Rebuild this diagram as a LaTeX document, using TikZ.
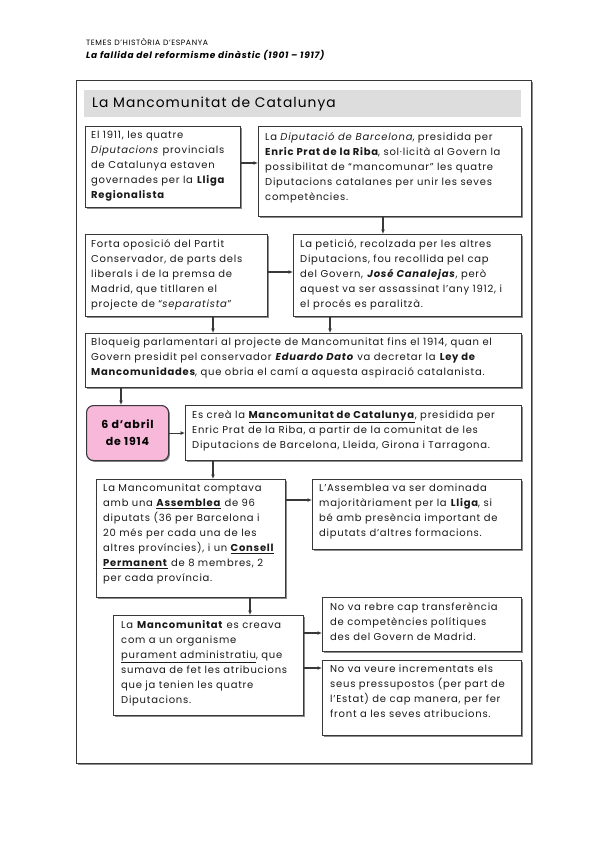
\documentclass[tikz,border=0pt]{standalone}
\usepackage{fontspec}
\setmainfont[LetterSpace=7.5]{Poppins}
\usetikzlibrary{arrows.meta,shadows}
\definecolor{pinkbox}{HTML}{F7B8DA}
\definecolor{titlegray}{HTML}{DDDDDD}
\definecolor{linec}{HTML}{383838}
\newcommand\ulx[1]{\leavevmode\vtop{\hbox{#1}\kern1.2pt\hrule height 0.7pt}}
\tikzset{
  boxstyle/.style={draw=linec, line width=1.1pt, fill=white, inner sep=0pt,
    anchor=north west,
    drop shadow={shadow xshift=1.3pt, shadow yshift=-1.3pt, fill=black!45, opacity=1}},
  txt/.style={align=left, inner sep=0pt, anchor=north west, text=black!90,
    font=\fontsize{10}{15}\selectfont},
  arr/.style={draw=linec, line width=1.1pt, -{Latex[length=4.5pt,width=4pt]}},
}
\begin{document}
\begin{tikzpicture}[x=1pt,y=-1pt]
\useasboundingbox (0,0) rectangle (599,848);
\fill[white] (0,0) rectangle (599,848);

% header
\node[anchor=base west, inner sep=0pt, font=\fontsize{7.7}{10}\selectfont] (h1) at (86,46) {TEMES D'HISTÒRIA D'ESPANYA};
\node[anchor=base west, inner sep=0pt, font=\fontsize{9}{10}\selectfont\bfseries\itshape] (h2) at (86,59) {La fallida del reformisme dinàstic (1901 – 1917)};

% frame
\node[boxstyle, minimum width=455pt, minimum height=683pt] (frame) at (76,80) {};
\node[fill=titlegray, inner sep=0pt, anchor=north west, minimum width=437pt, minimum height=27pt] (bar) at (84,90) {};
\node[anchor=west, inner sep=0pt, font=\fontsize{13.8}{17}\selectfont] (title) at (92,104) {La Mancomunitat de Catalunya};

% boxes
\node[boxstyle, minimum width=155pt, minimum height=81pt] (A) at (85,126) {};
\node[txt] (At) at ([xshift=6pt,yshift=-5pt]A.north west) {El 1911, les quatre\\ \textit{Diputacions} provincials\\ de Catalunya estaven\\ governades per la \textbf{Lliga}\\ \textbf{Regionalista}};

\node[boxstyle, minimum width=263pt, minimum height=90pt] (B) at (258,126) {};
\node[txt] (Bt) at ([xshift=7pt,yshift=-6pt]B.north west) {La \textit{Diputació de Barcelona}, presidida per\\ \textbf{Enric Prat de la Riba}, sol·licità al Govern la\\ possibilitat de “mancomunar” les quatre\\ Diputacions catalanes per unir les seves\\ competències.};

\node[boxstyle, minimum width=182pt, minimum height=82pt] (C) at (85,234) {};
\node[txt] (Ct) at ([xshift=6pt,yshift=-5pt]C.north west) {Forta oposició del Partit\\ Conservador, de parts dels\\ liberals i de la premsa de\\ Madrid, que titllaren el\\ projecte de “\textit{separatista}”};

\node[boxstyle, minimum width=228pt, minimum height=82pt] (D) at (293,234) {};
\node[txt] (Dt) at ([xshift=7pt,yshift=-5pt]D.north west) {La petició, recolzada per les altres\\ Diputacions, fou recollida pel cap\\ del Govern, \textbf{\textit{José Canalejas}}, però\\ aquest va ser assassinat l'any 1912, i\\ el procés es paralitzà.};

\node[boxstyle, minimum width=436pt, minimum height=54pt] (E) at (85,333) {};
\node[txt] (Et) at ([xshift=6pt,yshift=-5pt]E.north west) {Bloqueig parlamentari al projecte de Mancomunitat fins el 1914, quan el\\ Govern presidit pel conservador \textbf{\textit{Eduardo Dato}} va decretar la \textbf{Ley de}\\ \textbf{Mancomunidades}, que obria el camí a aquesta aspiració catalanista.};

\node[draw=linec, line width=1.1pt, fill=pinkbox, rounded corners=7pt, inner sep=0pt,
  anchor=north west, minimum width=82pt, minimum height=55pt, align=center,
  font=\fontsize{11}{17}\selectfont\bfseries,
  drop shadow={shadow xshift=1.3pt, shadow yshift=-1.3pt, fill=black!45, opacity=1}] (F) at (86,405) {6 d'abril\\ de 1914};

\node[boxstyle, minimum width=336pt, minimum height=55pt] (G) at (185,405) {};
\node[txt] (Gt) at ([xshift=7pt,yshift=-5pt]G.north west) {Es creà la \ulx{\textbf{Mancomunitat de Catalunya}}, presidida per\\ Enric Prat de la Riba, a partir de la comunitat de les\\ Diputacions de Barcelona, Lleida, Girona i Tarragona.};

\node[boxstyle, minimum width=189pt, minimum height=118pt] (H) at (96,479) {};
\node[txt] (Ht) at ([xshift=7pt,yshift=-5pt]H.north west) {La Mancomunitat comptava\\ amb una \ulx{\textbf{Assemblea}} de 96\\ diputats (36 per Barcelona i\\ 20 més per cada una de les\\ altres províncies), i un \ulx{\textbf{Consell}}\\ \ulx{\textbf{Permanent}} de 8 membres, 2\\ per cada província.};

\node[boxstyle, minimum width=209pt, minimum height=70pt] (I) at (312,479) {};
\node[txt] (It) at ([xshift=7pt,yshift=-5pt]I.north west) {L'Assemblea va ser dominada\\ majoritàriament per la \textbf{Lliga}, si\\ bé amb presència important de\\ diputats d'altres formacions.};

\node[boxstyle, minimum width=190pt, minimum height=100pt] (J) at (113,615) {};
\node[txt] (Jt) at ([xshift=8pt,yshift=-5pt]J.north west) {La \textbf{Mancomunitat} es creava\\ com a un organisme\\ \ulx{purament administratiu}, que\\ sumava de fet les atribucions\\ que ja tenien les quatre\\ Diputacions.};

\node[boxstyle, minimum width=199pt, minimum height=54pt] (K) at (322,597) {};
\node[txt] (Kt) at ([xshift=8pt,yshift=-5pt]K.north west) {No va rebre cap transferència\\ de competències polítiques\\ des del Govern de Madrid.};

\node[boxstyle, minimum width=199pt, minimum height=75pt] (L) at (322,660) {};
\node[txt] (Lt) at ([xshift=8pt,yshift=-5pt]L.north west) {No va veure incrementats els\\ seus pressupostos (per part de\\ l'Estat) de cap manera, per fer\\ front a les seves atribucions.};

% connectors
\draw[arr] (A.east |- 0,163) -- (B.west |- 0,163);
\draw[arr] (B.south -| 383,0) -- (D.north -| 383,0);
\draw[arr] (C.east |- 0,272) -- (D.west |- 0,272);
\draw[arr] (C.south -| 213,0) -- (E.north -| 213,0);
\draw[arr] (D.south -| 330,0) -- (E.north -| 330,0);
\draw[arr] (E.south -| 121,0) -- (F.north -| 121,0);
\draw[arr] (F.east) -- (G.west |- F.east);
\draw[arr] (G.south -| 213,0) -- (H.north -| 213,0);
\draw[arr] (H.east |- 0,500) -- (I.west |- 0,500);
\draw[arr] (H.south -| 250,0) -- (J.north -| 250,0);
\draw[arr] (J.east |- 0,633) -- (K.west |- 0,633);
\draw[arr] (J.east |- 0,668) -- (L.west |- 0,668);
\end{tikzpicture}
\end{document}
